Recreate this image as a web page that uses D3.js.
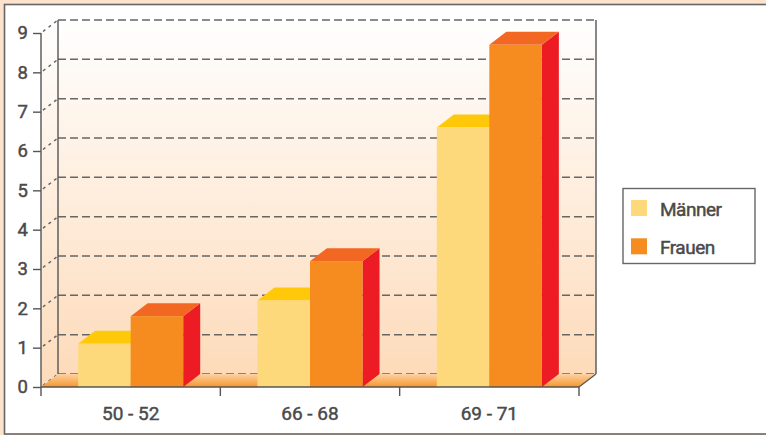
<!DOCTYPE html>
<html>
<head>
<meta charset="utf-8">
<script src="https://cdn.jsdelivr.net/npm/d3@7"></script>
<style>
  html, body { margin: 0; padding: 0; background: #fde3cb; }
  svg { display: block; }
  text { font-family: Roboto, "Liberation Sans", sans-serif; font-weight: 400; fill: #4a4a4a;
         stroke: #4a4a4a; stroke-width: 0.45px; }
</style>
</head>
<body>
<script>
// Age groups and values per series
const categories = ["50 - 52", "66 - 68", "69 - 71"];
const seriesNames = ["Männer", "Frauen"];
const maenner = [1.1, 2.2, 6.6];
const frauen = [1.8, 3.2, 8.7];
const yTicks = [0, 1, 2, 3, 4, 5, 6, 7, 8, 9];

const W = 766, H = 435;
const depthX = 17, depthY = -13;

const svg = d3.select("body").append("svg").attr("width", W).attr("height", H);
const defs = svg.append("defs");

const wallGrad = defs.append("linearGradient").attr("id", "wall")
  .attr("x1", 0).attr("y1", 0).attr("x2", 0).attr("y2", 1);
wallGrad.append("stop").attr("offset", 0).attr("stop-color", "#ffffff");
wallGrad.append("stop").attr("offset", 1).attr("stop-color", "#fddbba");

const floorGrad = defs.append("linearGradient").attr("id", "floor")
  .attr("x1", 0).attr("y1", 0).attr("x2", 0).attr("y2", 1);
floorGrad.append("stop").attr("offset", 0).attr("stop-color", "#fdd2a4");
floorGrad.append("stop").attr("offset", 1).attr("stop-color", "#f7962c");

// Panel
svg.append("rect").attr("x", 4.5).attr("y", 4.5).attr("width", W + 10).attr("height", 429.5)
  .attr("fill", "#ffffff").attr("stroke", "#666").attr("stroke-width", 1.6);

const y = d3.scaleLinear().domain([0, 9]).range([387, 33]);
const x0 = d3.scaleBand().domain(categories).range([41, 579]).padding(0);
const x1 = d3.scaleBand().domain(seriesNames).range([0, x0.bandwidth()])
  .paddingInner(0).paddingOuter(0.707);

const plotL = 41, plotR = 579, plotB = y(0), plotT = y(9);

// Back wall and side wall
svg.append("polygon")
  .attr("points", [[plotL + depthX, plotT + depthY], [plotR + depthX, plotT + depthY],
                   [plotR + depthX, plotB + depthY], [plotL + depthX, plotB + depthY]].join(" "))
  .attr("fill", "url(#wall)");
svg.append("polygon")
  .attr("points", [[plotL, plotT], [plotL + depthX, plotT + depthY],
                   [plotL + depthX, plotB + depthY], [plotL, plotB]].join(" "))
  .attr("fill", "url(#wall)");

// Gridlines on back wall and depth lines on side wall
const grid = svg.append("g").attr("stroke", "#666").attr("stroke-width", 1.5)
  .attr("stroke-dasharray", "8,4").attr("fill", "none");
yTicks.forEach(v => {
  grid.append("line").attr("x1", plotL + depthX).attr("x2", plotR + depthX)
    .attr("y1", y(v) + depthY).attr("y2", y(v) + depthY);
  grid.append("line").attr("x1", plotL + 2).attr("y1", y(v) - 1.5)
    .attr("x2", plotL + depthX).attr("y2", y(v) + depthY)
    .attr("stroke-dasharray", "3,4");
});

// Back wall edges
svg.append("line").attr("x1", plotL + depthX).attr("x2", plotL + depthX)
  .attr("y1", plotT + depthY).attr("y2", plotB + depthY).attr("stroke", "#555").attr("stroke-width", 1.4);
svg.append("line").attr("x1", plotR + depthX).attr("x2", plotR + depthX)
  .attr("y1", plotT + depthY).attr("y2", plotB + depthY).attr("stroke", "#555").attr("stroke-width", 1.4);

// Floor
svg.append("polygon")
  .attr("points", [[plotL, plotB], [plotR, plotB], [plotR + depthX, plotB + depthY],
                   [plotL + depthX, plotB + depthY]].join(" "))
  .attr("fill", "url(#floor)");
svg.append("line").attr("x1", plotR).attr("y1", plotB).attr("x2", plotR + depthX).attr("y2", plotB + depthY)
  .attr("stroke", "#555").attr("stroke-width", 1.2);

// 3D bars
const colors = {
  "Männer": { front: "#fed97c", top: "#ffc90a", side: "#f8b81a" },
  "Frauen": { front: "#f68b1f", top: "#f26722", side: "#ed1c24" }
};
const rows = [];
categories.forEach((c, i) => {
  rows.push({ cat: c, s: "Männer", v: maenner[i] });
  rows.push({ cat: c, s: "Frauen", v: frauen[i] });
});
const bw = x1.bandwidth();
const bars = svg.append("g").selectAll("g").data(rows).join("g");
bars.each(function (d) {
  const g = d3.select(this);
  const xl = x0(d.cat) + x1(d.s), xr = xl + bw, yt = y(d.v), yb = y(0);
  const c = colors[d.s];
  g.append("polygon").attr("points", [[xr, yb], [xr + depthX, yb + depthY], [xr + depthX, yt + depthY], [xr, yt]].join(" "))
    .attr("fill", c.side);
  g.append("polygon").attr("points", [[xl, yt], [xr, yt], [xr + depthX, yt + depthY], [xl + depthX, yt + depthY]].join(" "))
    .attr("fill", c.top);
  g.append("rect").attr("x", xl).attr("y", yt).attr("width", bw).attr("height", yb - yt).attr("fill", c.front);
});

// Y axis
const yAxis = d3.axisLeft(y).tickValues(yTicks).tickSize(8).tickPadding(5).tickFormat(d3.format("d"));
const ya = svg.append("g").attr("transform", `translate(${plotL},0)`).call(yAxis);
ya.select(".domain").attr("stroke", "#555").attr("stroke-width", 1.4).attr("d", `M0,${plotT}V${plotB}`);
ya.selectAll(".tick line").attr("stroke", "#555").attr("stroke-width", 1.4);
ya.selectAll(".tick text").attr("font-size", 18.5).attr("fill", "#4a4a4a").attr("stroke", "#4a4a4a")
  .attr("stroke-width", 0.45)
  .style("font-family", "Roboto, 'Liberation Sans', sans-serif").style("font-weight", 400);

// X axis
const xa = svg.append("g").attr("transform", `translate(0,${plotB})`);
xa.append("line").attr("x1", plotL).attr("x2", plotR).attr("stroke", "#555").attr("stroke-width", 1.4);
const bounds = categories.map(c => x0(c)).concat([x0(categories[categories.length - 1]) + x0.bandwidth()]);
xa.selectAll("line.tick").data(bounds).join("line").attr("class", "tick")
  .attr("x1", d => d).attr("x2", d => d).attr("y1", 0).attr("y2", 9)
  .attr("stroke", "#555").attr("stroke-width", 1.4);
xa.selectAll("text").data(categories).join("text")
  .attr("x", d => x0(d) + x0.bandwidth() / 2).attr("y", 33)
  .attr("text-anchor", "middle").attr("font-size", 19).text(d => d);

// Legend
const lg = svg.append("g");
lg.append("rect").attr("x", 623).attr("y", 188.5).attr("width", 132).attr("height", 75)
  .attr("fill", "#fff").attr("stroke", "#666").attr("stroke-width", 1.4);
seriesNames.forEach((s, i) => {
  lg.append("rect").attr("x", 631).attr("y", 200 + i * 38.3).attr("width", 16).attr("height", 16)
    .attr("fill", colors[s].front);
  lg.append("text").attr("x", 660).attr("y", 215.5 + i * 38.5).attr("font-size", 19)
    .attr("letter-spacing", -0.5).text(s);
});
</script>
</body>
</html>
